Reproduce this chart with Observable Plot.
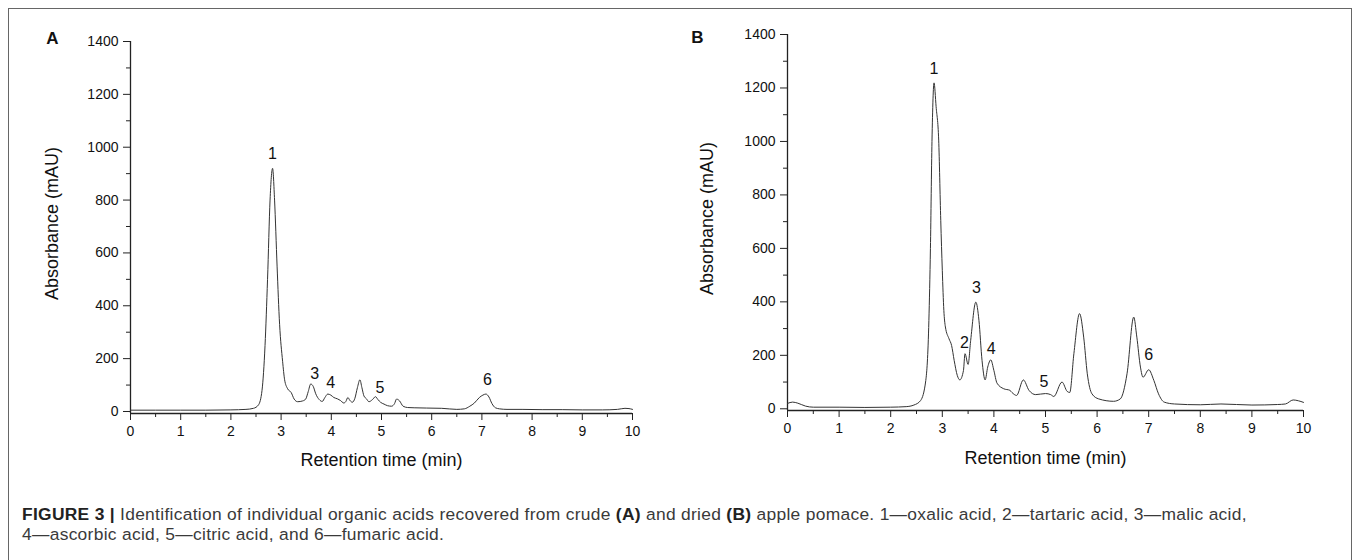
<!DOCTYPE html>
<html>
<head>
<meta charset="utf-8">
<script src="https://cdn.jsdelivr.net/npm/d3@7"></script>
<script src="https://cdn.jsdelivr.net/npm/@observablehq/plot@0.6"></script>
<style>
  html, body { margin: 0; padding: 0; background: #fff; }
  #page { position: relative; width: 1357px; height: 560px; overflow: hidden; background: #fff; }
  #frame { position: absolute; left: 8px; top: 8px; width: 1344px; height: 640px; border: 1px solid #666; box-sizing: border-box; }
  .panel { position: absolute; top: 0; }
  #caption { position: absolute; left: 22px; top: 504px; font-family: "Liberation Sans", Arial, sans-serif; font-size: 17.4px; line-height: 20px; color: #3a3a3a; white-space: nowrap; letter-spacing: 0.3px; }
  #caption b { color: #222; }
</style>
</head>
<body>
<div id="page">
  <div id="frame"></div>
  <div id="panelA" class="panel" style="left:0px"></div>
  <div id="panelB" class="panel" style="left:680px"></div>
  <div id="caption"><b>FIGURE 3 |</b> Identification of individual organic acids recovered from crude <b>(A)</b> and dried <b>(B)</b> apple pomace. 1—oxalic acid, 2—tartaric acid, 3—malic acid,<br>4—ascorbic acid, 5—citric acid, and 6—fumaric acid.</div>
</div>
<script>
// ---- data: chromatogram traces [retention time (min), absorbance (mAU)] ----
const traceA = [
  [0,5],[0.5,5],[1,5],[1.5,5],[2,6],[2.3,8],[2.45,12],[2.55,25],[2.62,80],[2.68,250],
  [2.73,500],[2.78,800],[2.83,920],[2.87,800],[2.92,550],[2.97,330],[3.03,190],[3.07,120],
  [3.13,86],[3.2,72],[3.26,47],[3.33,37],[3.43,40],[3.49,47],[3.54,75],[3.59,104],[3.64,95],
  [3.69,67],[3.76,45],[3.82,38],[3.87,52],[3.93,66],[3.99,62],[4.05,53],[4.12,48],[4.18,42],
  [4.25,32],[4.29,38],[4.33,53],[4.37,42],[4.42,35],[4.47,50],[4.52,90],[4.57,120],[4.61,90],
  [4.65,59],[4.7,48],[4.75,37],[4.82,45],[4.88,56],[4.93,45],[4.98,35],[5.05,28],[5.12,22],
  [5.2,20],[5.26,30],[5.3,47],[5.36,40],[5.43,20],[5.52,15],[5.65,14],[5.9,13],[6.2,12],
  [6.5,8],[6.65,10],[6.76,20],[6.85,32],[6.95,53],[7.02,62],[7.08,66],[7.14,55],[7.2,30],
  [7.27,14],[7.35,10],[7.5,8],[7.8,8],[8.2,7],[8.6,7],[9.0,6],[9.4,6],[9.7,8],[9.85,12],
  [9.93,11],[10,8]
];
const traceB = [
  [0,20],[0.1,25],[0.2,21],[0.35,10],[0.5,6],[1,6],[1.5,5],[2,6],[2.3,8],[2.45,14],
  [2.58,31],[2.68,106],[2.74,330],[2.77,600],[2.8,1000],[2.84,1219],[2.88,1130],[2.93,1005],
  [2.97,705],[3.0,518],[3.03,368],[3.06,306],[3.13,262],[3.18,237],[3.23,181],[3.29,125],
  [3.34,108],[3.41,143],[3.44,206],[3.5,166],[3.55,256],[3.65,399],[3.71,331],[3.77,181],
  [3.83,108],[3.88,156],[3.94,183],[4.0,143],[4.06,96],[4.19,75],[4.31,69],[4.35,61],
  [4.44,50],[4.57,108],[4.68,69],[4.81,53],[5.0,57],[5.1,53],[5.16,46],[5.32,100],[5.42,65],
  [5.47,61],[5.55,206],[5.66,356],[5.74,268],[5.81,131],[5.9,56],[6.03,37],[6.32,28],
  [6.45,37],[6.58,131],[6.71,343],[6.77,268],[6.84,156],[6.89,118],[7.0,146],[7.1,106],
  [7.19,56],[7.3,25],[7.5,18],[8,15],[8.4,18],[9,14],[9.5,16],[9.65,18],[9.8,33],[9.9,30],[10,24]
];

// peak labels
const peakLabelsA = ["1", "3", "4", "5", "6"];
const peakTimeA   = [2.83, 3.67, 3.99, 4.97, 7.11];
const peakLevelA  = [974, 144, 110, 91, 119];
const peakLabelsB = ["1", "2", "3", "4", "5", "6"];
const peakTimeB   = [2.84, 3.43, 3.66, 3.95, 4.97, 7.0];
const peakLevelB  = [1270, 247, 453, 225, 100, 200];

// axes
const xMajor = [0,1,2,3,4,5,6,7,8,9,10];
const xMinor = [0.5,1.5,2.5,3.5,4.5,5.5,6.5,7.5,8.5,9.5];
const yMajor = [0,200,400,600,800,1000,1200,1400];
const yMinor = [100,300,500,700,900,1100,1300];
const xTitle = "Retention time (min)";
const yTitle = "Absorbance (mAU)";

function panel(o) {
  const xDom = [0, 10];
  const yDom = o.yDom;
  return Plot.plot({
    width: o.width, height: 480,
    marginLeft: o.ml, marginRight: o.mr, marginTop: o.mt, marginBottom: o.mb,
    x: {domain: xDom, axis: null},
    y: {domain: yDom, axis: null},
    style: {fontFamily: "'Liberation Sans', Arial, sans-serif", fontSize: "14px", color: "#111", background: "transparent", overflow: "visible"},
    marks: [
      Plot.ruleY([yDom[0]], {stroke: "#222", strokeWidth: 1.3}),
      Plot.ruleX([xDom[0]], {stroke: "#222", strokeWidth: 1.3}),
      Plot.axisX(xMajor, {anchor: "bottom", tickSize: 7, tickPadding: 6, fontSize: 14, stroke: "#222", fill: "#111", label: null, tickFormat: d => String(d)}),
      Plot.axisX(xMinor, {anchor: "bottom", tickSize: 4, tickFormat: () => "", stroke: "#222", label: null}),
      Plot.axisY(yMajor, {anchor: "left", tickSize: 7, tickPadding: 5, fontSize: 14, stroke: "#222", fill: "#111", label: null, tickFormat: d => String(d)}),
      Plot.axisY(yMinor, {anchor: "left", tickSize: 4, tickFormat: () => "", stroke: "#222", label: null}),
      Plot.line(o.trace, {x: d => d[0], y: d => d[1], stroke: "#333", strokeWidth: 1, curve: "monotone-x"}),
      Plot.text(o.labels, {x: (d, i) => o.times[i], y: (d, i) => o.levels[i], text: d => d, fontSize: 16, fill: "#111"}),
      Plot.text([xTitle], {frameAnchor: "bottom", lineAnchor: "middle", dy: o.xtDy, fontSize: 18, fill: "#111"}),
      Plot.text([yTitle], {frameAnchor: "left", textAnchor: "middle", lineAnchor: "middle", dx: o.ytDx, dy: -4, rotate: -90, fontSize: 18, fill: "#111"}),
      Plot.text([o.letter], {frameAnchor: "top-left", textAnchor: "middle", lineAnchor: "middle", dx: o.ldx, dy: o.ldy, fontSize: 17, fontWeight: "bold", fill: "#111"})
    ]
  });
}

document.getElementById("panelA").append(panel({
  width: 680, ml: 130, mr: 48, mt: 41, mb: 67, yDom: [-7.6, 1400],
  trace: traceA, labels: peakLabelsA, times: peakTimeA, levels: peakLevelA,
  xtDy: 47, ytDx: -78, letter: "A", ldx: -78, ldy: -3
}));
document.getElementById("panelB").append(panel({
  width: 677, ml: 107, mr: 54, mt: 34, mb: 70, yDom: [-6.4, 1400],
  trace: traceB, labels: peakLabelsB, times: peakTimeB, levels: peakLevelB,
  xtDy: 48, ytDx: -80, letter: "B", ldx: -90, ldy: 3
}));
</script>
</body>
</html>
